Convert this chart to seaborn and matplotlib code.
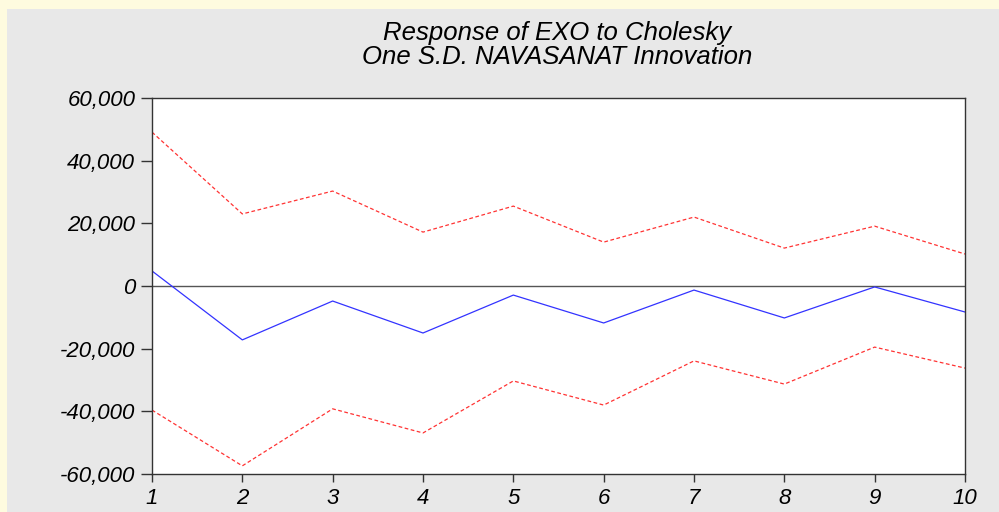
import pandas as pd
import seaborn as sns
import matplotlib.pyplot as plt
from matplotlib.patches import Rectangle

periods = [1, 2, 3, 4, 5, 6, 7, 8, 9, 10]
response = [4800, -17200, -4800, -15000, -2900, -11800, -1300, -10200, -300, -8300]
upper_band = [49100, 23000, 30300, 17200, 25500, 14000, 22000, 12100, 19100, 10200]
lower_band = [-39600, -57400, -39200, -46900, -30300, -38000, -23900, -31300, -19500, -26200]
y_ticks = [-60000, -40000, -20000, 0, 20000, 40000, 60000]

df = pd.DataFrame({'period': periods, 'response': response,
                   'upper': upper_band, 'lower': lower_band})

sns.set_style('white')
plt.rcParams['font.family'] = ['Liberation Sans', 'DejaVu Sans']

fig = plt.figure(figsize=(9.99, 5.12), dpi=100, facecolor='#fefbdf')
# grey panel inside the yellow frame
fig.patches.append(Rectangle((7 / 999, 0), 1, 1 - 9 / 512, transform=fig.transFigure,
                             facecolor='#e8e8e8', edgecolor='none', zorder=-10))

ax = fig.add_axes([152 / 999, 1 - 474 / 512, (965 - 152) / 999, (474 - 98) / 512])
ax.set_facecolor('white')

ax.axhline(0, color='#555555', lw=1)
sns.lineplot(data=df, x='period', y='upper', ax=ax, color='#ff3333', lw=0.9, linestyle=(0, (3, 2)))
sns.lineplot(data=df, x='period', y='lower', ax=ax, color='#ff3333', lw=0.9, linestyle=(0, (3, 2)))
sns.lineplot(data=df, x='period', y='response', ax=ax, color='#3333ff', lw=0.9)

ax.set_xlim(1, 10)
ax.set_ylim(-60000, 60000)
ax.set_xticks(periods)
ax.set_xticklabels([str(p) for p in periods], fontstyle='italic', fontsize=16)
ax.set_yticks(y_ticks)
ax.set_yticklabels([f'{v:,}' for v in y_ticks], fontstyle='italic', fontsize=16)
ax.set_xlabel('')
ax.set_ylabel('')
ax.tick_params(axis='both', bottom=True, left=True, direction='out', width=1,
               color='#333333', labelcolor='black')
ax.tick_params(axis='y', length=8, pad=4)
ax.tick_params(axis='x', length=6, pad=4)
for s in ax.spines.values():
    s.set_color('#333333')
    s.set_linewidth(1)

fig.text(0.558, 1 - 33 / 512, 'Response of EXO to Cholesky', ha='center', va='center',
         fontsize=18.5, fontstyle='italic', color='black')
fig.text(0.558, 1 - 57 / 512, 'One S.D. NAVASANAT Innovation', ha='center', va='center',
         fontsize=18.5, fontstyle='italic', color='black')

fig.savefig('out.png', dpi=100, facecolor=fig.get_facecolor())
